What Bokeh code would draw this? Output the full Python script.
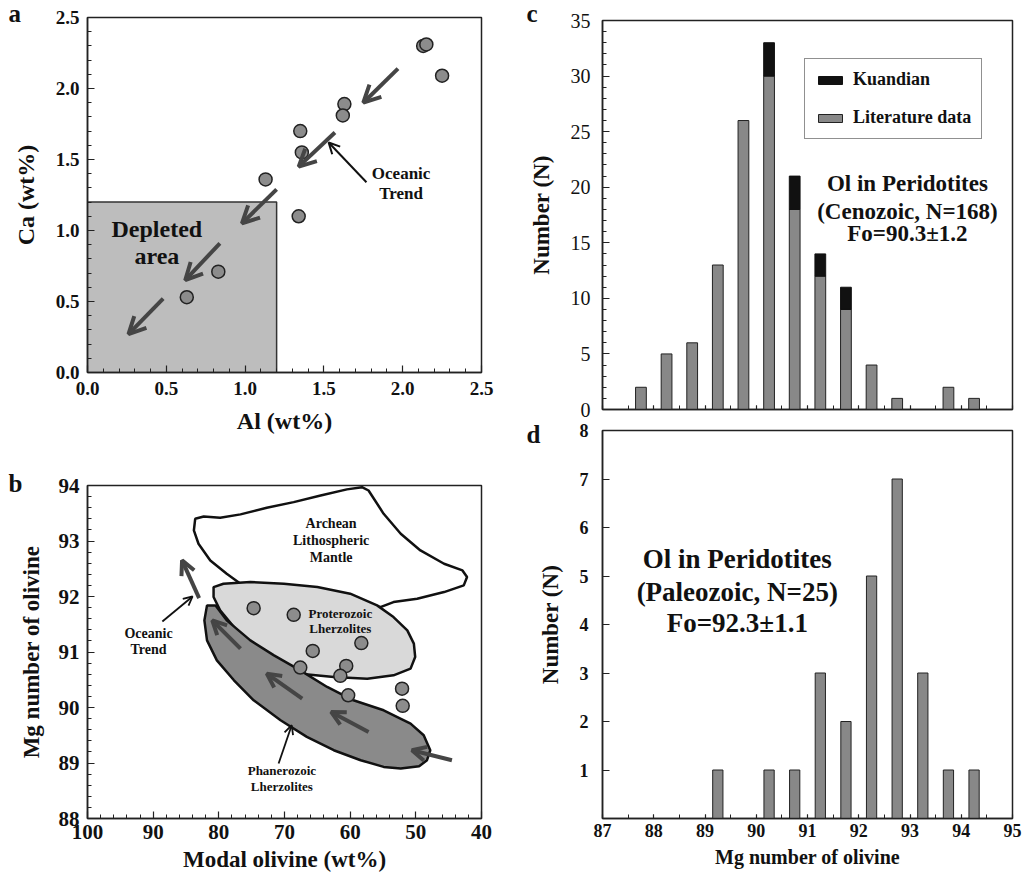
import numpy as np
from bokeh.plotting import figure
from bokeh.models import (Range1d, ColumnDataSource, Arrow, OpenHead, Label, Title,
                          Legend, LegendItem, SingleIntervalTicker, PrintfTickFormatter)
from bokeh.layouts import row, column
from bokeh.embed import file_html
from bokeh.resources import INLINE

FONT = "Liberation Serif"

# ---------------- Panel a data ----------------
a_al = [2.13, 2.15, 2.25, 1.63, 1.62, 1.35, 1.36, 1.13, 1.34, 0.83, 0.63]
a_ca = [2.30, 2.31, 2.09, 1.89, 1.81, 1.70, 1.55, 1.36, 1.10, 0.71, 0.53]
depleted_al = 1.2
depleted_ca = 1.2
a_arrow_x0 = [1.97, 1.57, 1.20, 0.84, 0.48]
a_arrow_y0 = [2.14, 1.69, 1.29, 0.91, 0.52]
a_arrow_x1 = [1.75, 1.34, 0.98, 0.62, 0.26]
a_arrow_y1 = [1.90, 1.45, 1.05, 0.65, 0.27]
a_pointer = [1.77, 1.34, 1.53, 1.62]  # x0, y0, x1, y1

# ---------------- Panel b data ----------------
b_olivine = [74.7, 68.6, 65.7, 58.3, 67.6, 60.6, 61.5, 60.3, 52.1, 52.0]
b_mg = [91.79, 91.67, 91.02, 91.16, 90.72, 90.75, 90.57, 90.22, 90.34, 90.03]

archean_x = [83.6, 82.3, 79.8, 76.7, 72.7, 68.6, 64.5, 60.5, 58.2, 57.2, 54.9, 52.3,
             49.3, 45.7, 42.9, 42.2, 42.7, 45.7, 49.8, 53.4, 55.4, 62.5, 72.7, 76.7,
             78.8, 81.3, 83.1, 83.8]
archean_y = [93.40, 93.44, 93.42, 93.48, 93.60, 93.70, 93.82, 93.93, 93.97, 93.91, 93.49, 93.13,
             92.83, 92.59, 92.47, 92.35, 92.20, 92.08, 91.96, 91.90, 91.81, 91.93, 92.17, 92.23,
             92.41, 92.65, 92.95, 93.19]
proterozoic_x = [80.8, 79.3, 75.2, 70.1, 65.0, 60.0, 55.9, 53.4, 51.3, 50.3, 50.1, 50.8,
                 53.4, 57.4, 62.5, 67.6, 71.1, 73.7, 75.7, 77.7, 79.8, 80.8]
proterozoic_y = [92.17, 92.23, 92.26, 92.23, 92.17, 92.05, 91.84, 91.63, 91.39, 91.15, 90.91, 90.70,
                 90.58, 90.52, 90.55, 90.61, 90.70, 90.85, 91.09, 91.45, 91.75, 91.99]
phanerozoic_x = [81.8, 80.5, 78.8, 75.2, 71.6, 67.6, 63.5, 59.5, 54.9, 50.8, 48.8, 47.8,
                 48.3, 49.5, 52.3, 54.9, 58.4, 62.5, 66.6, 70.6, 74.7, 77.7, 80.3, 81.8, 82.2]
phanerozoic_y = [91.84, 91.84, 91.57, 91.21, 90.94, 90.67, 90.37, 90.13, 89.95, 89.71, 89.50, 89.23,
                 89.05, 88.94, 88.90, 88.93, 89.05, 89.23, 89.47, 89.77, 90.13, 90.49, 90.85, 91.21, 91.57]
b_arrow_x0 = [83.0, 76.7, 67.3, 57.2, 44.5]
b_arrow_y0 = [91.97, 91.06, 90.16, 89.56, 89.05]
b_arrow_x1 = [85.6, 81.0, 72.7, 62.9, 50.6]
b_arrow_y1 = [92.65, 91.57, 90.61, 89.92, 89.23]
b_pointer_x0 = [88.6, 70.9]
b_pointer_y0 = [91.55, 88.99]
b_pointer_x1 = [84.0, 68.9]
b_pointer_y1 = [92.00, 89.68]

# ---------------- Panel c data ----------------
c_bins = [87.75, 88.25, 88.75, 89.25, 89.75, 90.25, 90.75, 91.25, 91.75, 92.25, 92.75, 93.25, 93.75, 94.25]
c_literature = [2, 5, 6, 13, 26, 30, 18, 12, 9, 4, 1, 0, 2, 1]
c_kuandian = [0, 0, 0, 0, 0, 3, 3, 2, 2, 0, 0, 0, 0, 0]
c_note = ["Ol in Peridotites", "(Cenozoic, N=168)", "Fo=90.3\u00b11.2"]

# ---------------- Panel d data ----------------
d_bins = [89.25, 90.25, 90.75, 91.25, 91.75, 92.25, 92.75, 93.25, 93.75, 94.25]
d_counts = [1, 1, 1, 3, 2, 5, 7, 3, 1, 1]
d_note = ["Ol in Peridotites", "(Paleozoic, N=25)", "Fo=92.3\u00b11.1"]


def style(p, tick_size, label_size, tick_bold=True):
    p.outline_line_color = "#222222"
    p.outline_line_width = 1.5
    p.grid.visible = False
    p.background_fill_color = "white"
    p.border_fill_color = "white"
    for ax in p.axis:
        ax.axis_line_color = "#222222"
        ax.axis_line_width = 1.5
        ax.major_tick_in = 7
        ax.major_tick_out = 0
        ax.minor_tick_in = 4
        ax.minor_tick_out = 0
        ax.major_tick_line_color = "#222222"
        ax.minor_tick_line_color = "#222222"
        ax.major_tick_line_width = 1.2
        ax.minor_tick_line_width = 1
        ax.major_label_text_font = FONT
        ax.major_label_text_font_style = "bold" if tick_bold else "normal"
        ax.major_label_text_font_size = tick_size
        ax.major_label_text_color = "#111111"
        ax.axis_label_text_font = FONT
        ax.axis_label_text_font_style = "bold"
        ax.axis_label_text_font_size = label_size
        ax.axis_label_text_color = "#111111"


def txt(p, x, y, t, size, bold=True, color="#111111", align="center"):
    p.add_layout(Label(x=x, y=y, text=t, text_font=FONT, text_font_size=size,
                       text_font_style="bold" if bold else "normal", text_color=color,
                       text_align=align, text_baseline="middle"))


def letter(p, t, offset, standoff):
    p.add_layout(Title(text=t, align="left", vertical_align="bottom", offset=offset,
                       standoff=standoff, text_font=FONT, text_font_size="25px",
                       text_font_style="bold", text_color="#111111"), "above")


# ================= Panel a =================
pa = figure(width=500, height=436, x_range=Range1d(0, 2.5), y_range=Range1d(0, 2.5),
            output_backend="svg", toolbar_location=None,
            min_border_left=87, min_border_right=18, min_border_top=17, min_border_bottom=64)
style(pa, "19px", "24px")
pa.xaxis.ticker = SingleIntervalTicker(interval=0.5, num_minor_ticks=5)
pa.yaxis.ticker = SingleIntervalTicker(interval=0.5, num_minor_ticks=5)
pa.xaxis.formatter = PrintfTickFormatter(format="%.1f")
pa.yaxis.formatter = PrintfTickFormatter(format="%.1f")
pa.xaxis.axis_label = "Al (wt%)"
pa.yaxis.axis_label = "Ca (wt%)"
pa.xaxis.major_label_standoff = 9
pa.xaxis.axis_label_standoff = 10
pa.yaxis.major_label_standoff = 8
pa.yaxis.axis_label_standoff = 14

pa.quad(left=[0], right=[depleted_al], bottom=[0], top=[depleted_ca],
        fill_color="#bdbdbd", line_color="#333333", line_width=1.5)
src_a = ColumnDataSource(dict(x0=a_arrow_x0, y0=a_arrow_y0, x1=a_arrow_x1, y1=a_arrow_y1))
pa.add_layout(Arrow(x_start="x0", y_start="y0", x_end="x1", y_end="y1", source=src_a,
                    line_color="#454545", line_width=4,
                    end=OpenHead(size=17, line_width=4, line_color="#454545")))
pa.add_layout(Arrow(x_start=a_pointer[0], y_start=a_pointer[1], x_end=a_pointer[2], y_end=a_pointer[3],
                    line_color="#111111", line_width=2,
                    end=OpenHead(size=11, line_width=2, line_color="#111111")))
pa.scatter(a_al, a_ca, size=13, fill_color="#8c8c8c", line_color="#222222", line_width=1.5)
txt(pa, 0.44, 1.014, "Depleted", "24px")
txt(pa, 0.44, 0.817, "area", "24px")
txt(pa, 1.99, 1.401, "Oceanic", "17px")
txt(pa, 1.99, 1.261, "Trend", "17px")
letter(pa, "a", -79, -18)

# ================= Panel b =================
pb = figure(width=500, height=446, x_range=Range1d(100, 40), y_range=Range1d(88, 94),
            output_backend="svg", toolbar_location=None,
            min_border_left=87, min_border_right=19, min_border_top=49, min_border_bottom=64)
style(pb, "21px", "23px")
pb.xaxis.ticker = SingleIntervalTicker(interval=10, num_minor_ticks=5)
pb.yaxis.ticker = SingleIntervalTicker(interval=1, num_minor_ticks=5)
pb.xaxis.axis_label = "Modal olivine (wt%)"
pb.yaxis.axis_label = "Mg number of olivine"
pb.xaxis.major_label_standoff = 6
pb.xaxis.axis_label_standoff = 5
pb.yaxis.major_label_standoff = 8
pb.yaxis.axis_label_standoff = 12

pb.patch(archean_x, archean_y, fill_color="white", line_color="#111111", line_width=2.5)
pb.patch(proterozoic_x, proterozoic_y, fill_color="#d9d9d9", line_color="#111111", line_width=2.5)
pb.patch(phanerozoic_x, phanerozoic_y, fill_color="#8a8a8a", line_color="#111111", line_width=2.5)
pb.scatter(b_olivine, b_mg, size=13, fill_color="#8c8c8c", line_color="#222222", line_width=1.5)
src_b = ColumnDataSource(dict(x0=b_arrow_x0, y0=b_arrow_y0, x1=b_arrow_x1, y1=b_arrow_y1))
pb.add_layout(Arrow(x_start="x0", y_start="y0", x_end="x1", y_end="y1", source=src_b,
                    line_color="#454545", line_width=4,
                    end=OpenHead(size=14, line_width=4, line_color="#454545")))
src_bp = ColumnDataSource(dict(x0=b_pointer_x0, y0=b_pointer_y0, x1=b_pointer_x1, y1=b_pointer_y1))
pb.add_layout(Arrow(x_start="x0", y_start="y0", x_end="x1", y_end="y1", source=src_bp,
                    line_color="#111111", line_width=1.8,
                    end=OpenHead(size=9, line_width=1.8, line_color="#111111")))
txt(pb, 62.9, 93.31, "Archean", "14px")
txt(pb, 62.9, 93.01, "Lithospheric", "14px")
txt(pb, 62.9, 92.71, "Mantle", "14px")
txt(pb, 61.5, 91.70, "Proterozoic", "13px")
txt(pb, 61.5, 91.42, "Lherzolites", "13px")
txt(pb, 90.7, 91.34, "Oceanic", "14px")
txt(pb, 90.7, 91.04, "Trend", "14px")
txt(pb, 70.4, 88.86, "Phanerozoic", "13px")
txt(pb, 70.4, 88.58, "Lherzolites", "13px")
letter(pb, "b", -79, -22)

# ================= Panel c =================
pc = figure(width=528, height=419, x_range=Range1d(87, 95), y_range=Range1d(0, 35),
            output_backend="svg", toolbar_location=None,
            min_border_left=102, min_border_right=16, min_border_top=20, min_border_bottom=10)
style(pc, "20px", "23px", tick_bold=False)
pc.xaxis.ticker = SingleIntervalTicker(interval=1, num_minor_ticks=2)
pc.yaxis.ticker = SingleIntervalTicker(interval=5, num_minor_ticks=5)
pc.xaxis.major_label_overrides = {k: "" for k in range(87, 96)}
pc.xaxis.major_label_standoff = 0
pc.xaxis.major_tick_in = 4
pc.yaxis.axis_label = "Number (N)"
pc.yaxis.major_label_standoff = 12
pc.yaxis.axis_label_standoff = 14

lit = np.array(c_literature, dtype=float)
kua = np.array(c_kuandian, dtype=float)
mask = kua > 0
r_lit = pc.vbar(x=c_bins, width=0.21, top=lit, bottom=0, fill_color="#888888",
                line_color="#222222", line_width=1)
r_kua = pc.vbar(x=list(np.array(c_bins)[mask]), width=0.21, bottom=list(lit[mask]),
                top=list((lit + kua)[mask]), fill_color="#111111", line_color="#111111", line_width=1)
leg = Legend(items=[LegendItem(label="Kuandian", renderers=[r_kua]),
                    LegendItem(label="Literature data", renderers=[r_lit])],
             location=(202, 270), label_text_font=FONT, label_text_font_style="bold",
             label_text_font_size="18px", label_text_color="#111111",
             glyph_width=30, glyph_height=10, label_height=20, label_standoff=8,
             spacing=17, padding=10, margin=0,
             border_line_color="#222222", border_line_width=1.5,
             background_fill_color="white", background_fill_alpha=1)
pc.add_layout(leg, "center")
for t, yv in zip(c_note, [20.36, 17.84, 15.81]):
    txt(pc, 92.95, yv, t, "23px")
letter(pc, "c", -76, -12)

# ================= Panel d =================
pd_ = figure(width=528, height=463, x_range=Range1d(87, 95), y_range=Range1d(0, 8),
             output_backend="svg", toolbar_location=None,
             min_border_left=102, min_border_right=16, min_border_top=11, min_border_bottom=64)
style(pd_, "18px", "23px")
pd_.xaxis.ticker = SingleIntervalTicker(interval=1, num_minor_ticks=2)
pd_.yaxis.ticker = SingleIntervalTicker(interval=1, num_minor_ticks=0)
pd_.yaxis.major_label_overrides = {0: ""}
pd_.xaxis.major_tick_in = 4
pd_.xaxis.axis_label = "Mg number of olivine"
pd_.xaxis.axis_label_text_font_size = "20px"
pd_.yaxis.axis_label = "Number (N)"
pd_.xaxis.major_label_standoff = 5
pd_.xaxis.axis_label_standoff = 6
pd_.yaxis.major_label_standoff = 14
pd_.yaxis.axis_label_standoff = 14
pd_.vbar(x=d_bins, width=0.2, top=d_counts, bottom=0, fill_color="#888888",
         line_color="#222222", line_width=1)
for t, yv in zip(d_note, [5.36, 4.66, 4.04]):
    txt(pd_, 89.63, yv, t, "27px")
letter(pd_, "d", -76, -35)

layout = row(column(pa, pb), column(pc, pd_))
open("out.html", "w").write(file_html(layout, INLINE))
